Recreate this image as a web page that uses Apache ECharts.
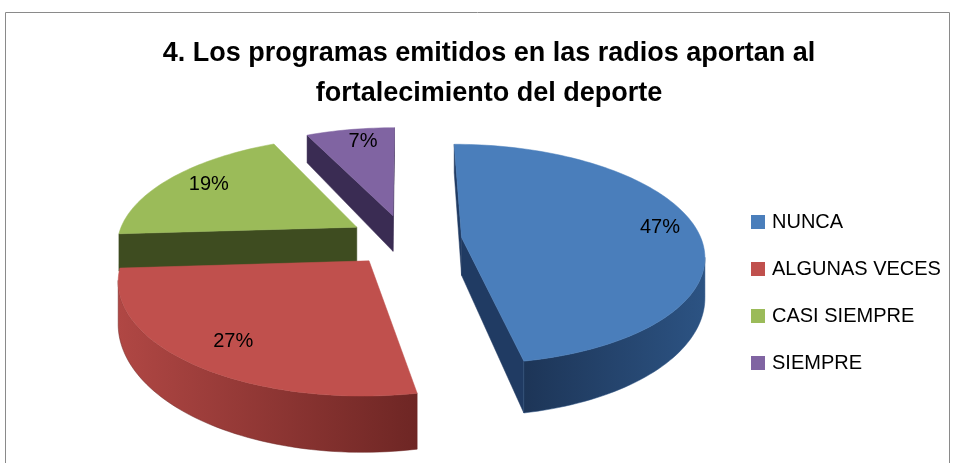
<!DOCTYPE html>
<html>
<head>
<meta charset="utf-8">
<script src="https://cdn.jsdelivr.net/npm/echarts@6/dist/echarts.min.js"></script>
<style>html,body{margin:0;padding:0;background:#fff}#c{width:955px;height:463px}</style>
</head>
<body>
<div id="c"></div>
<script>
// ---- data ----
const categories = ['NUNCA', 'ALGUNAS VECES', 'CASI SIEMPRE', 'SIEMPRE'];
const values = [47, 27, 19, 7];
const titleLines = ['4. Los programas emitidos en las radios aportan al', 'fortalecimiento del deporte'];

// ---- styles ----
const topColors = ['#4a7ebb', '#c0504d', '#9bbb59', '#8064a2'];
const wallColors = [['#1d3557', '#2c5383'], ['#b04744', '#6e2624'], ['#3f4d21', '#3b481e'], ['#3d2f57', '#34284b']];
const radialColors = ['#203b63', '#8e3634', '#3e4c20', '#3a2c53'];

// geometry of the 3D projection
const CX = 405, CY = 240, R = 240, K = 0.45, A = 0.15, E = 57, H = 38;

const total = values.reduce((a, b) => a + b, 0);
const angles = [];
(function () { let acc = 0; values.forEach(v => { const s = acc / total * Math.PI * 2; acc += v; angles.push([s, acc / total * Math.PI * 2]); }); })();

function proj(X, Z, d) {
  const s = 1 / (1 + A * Z / R);
  return [CX + s * X, CY - K * Z * s + d * H * s * s];
}
function area(p) {
  let a = 0;
  for (let i = 0; i < p.length; i++) { const q = p[(i + 1) % p.length]; a += p[i][0] * q[1] - q[0] * p[i][1]; }
  return a;
}

function renderItem(params, api) {
  const i = params.dataIndex;
  const val = api.value(0);
  const [ts, te] = angles[i];
  const mid = (ts + te) / 2;
  const ox = E * Math.sin(mid), oz = E * Math.cos(mid);
  const rimXZ = t => [ox + R * Math.sin(t), oz + R * Math.cos(t)];
  const rim = (t, d) => { const q = rimXZ(t); return proj(q[0], q[1], d); };
  const apex = d => proj(ox, oz, d);
  const N = Math.max(8, Math.ceil((te - ts) / (Math.PI / 120)));
  const th = j => ts + (te - ts) * j / N;
  const children = [];
  const zOf = z => Math.round(500 - z);

  // outer wall runs
  let run = null; const runs = [];
  for (let j = 0; j < N; j++) {
    const q = [rim(th(j), 0), rim(th(j + 1), 0), rim(th(j + 1), 1), rim(th(j), 1)];
    const vis = area(q) < 0;
    if (vis) { if (!run) { run = [j, j + 1]; runs.push(run); } else run[1] = j + 1; }
    else run = null;
  }
  runs.forEach(r => {
    const pts = []; const back = []; let zs = 0;
    for (let j = r[0]; j <= r[1]; j++) { pts.push(rim(th(j), 0)); back.unshift(rim(th(j), 1)); zs += rimXZ(th(j))[1]; }
    const zAvg = zs / (r[1] - r[0] + 1);
    children.push({
      type: 'polygon', z2: zOf(zAvg), shape: { points: pts.concat(back) },
      style: { fill: new echarts.graphic.LinearGradient(0, 0, 1, 0, [{ offset: 0, color: wallColors[i][0] }, { offset: 1, color: wallColors[i][1] }]), stroke: wallColors[i][1], lineWidth: 0.5 }
    });
  });
  // radial faces
  const sFace = [apex(0), rim(ts, 0), rim(ts, 1), apex(1)];
  const eFace = [rim(te, 0), apex(0), apex(1), rim(te, 1)];
  [[sFace, ts], [eFace, te]].forEach(([f, t]) => {
    if (area(f) < 0) {
      const zAvg = (oz + rimXZ(t)[1]) / 2;
      children.push({ type: 'polygon', z2: zOf(zAvg), shape: { points: f }, style: { fill: radialColors[i], stroke: radialColors[i], lineWidth: 0.5 } });
    }
  });
  // top face
  const topPts = [apex(0)];
  for (let j = 0; j <= N; j++) topPts.push(rim(th(j), 0));
  children.push({ type: 'polygon', z2: 2000 + zOf(oz), shape: { points: topPts }, style: { fill: topColors[i], stroke: topColors[i], lineWidth: 0.5 } });
  // label
  const lp = proj(ox + 0.82 * R * Math.sin(mid), oz + 0.82 * R * Math.cos(mid), 0);
  children.push({
    type: 'text', z2: 5000, x: lp[0] + 6, y: lp[1] - 2,
    style: { text: Math.round(val / total * 100) + '%', fill: '#000', font: '20px "Liberation Sans", Arial, sans-serif', align: 'center', verticalAlign: 'middle' }
  });
  return { type: 'group', children };
}

const chart = echarts.init(document.getElementById('c'), null, { renderer: 'canvas' });
chart.setOption({
  animation: false,
  color: topColors,
  title: {
    text: titleLines.join('\n'), left: 489, top: 34, textAlign: 'center', padding: 0,
    textStyle: { fontFamily: '"Liberation Sans Narrow", "Liberation Sans", sans-serif', fontWeight: 'bold', fontSize: 27, lineHeight: 40, color: '#000' }
  },
  legend: {
    data: categories, orient: 'vertical', left: 746, top: 207, itemWidth: 14, itemHeight: 14, itemGap: 27,
    icon: 'rect',
    textStyle: { fontFamily: '"Liberation Sans", Arial, sans-serif', fontSize: 20, lineHeight: 20, color: '#000', padding: [0, 0, 0, 2] }
  },
  graphic: [{ type: 'rect', shape: { x: 5.5, y: 12.5, width: 944, height: 470 }, style: { fill: 'none', stroke: '#8a8a8a', lineWidth: 1 }, silent: true }],
  series: [
    {
      type: 'pie', name: 'legend', center: [-500, -500], radius: [0, 1], silent: true, label: { show: false },
      data: categories.map((c, i) => ({ name: c, value: values[i] }))
    },
    {
      type: 'custom', coordinateSystem: 'none', silent: true, renderItem,
      data: values.map((v, i) => ({ name: categories[i], value: [v] }))
    }
  ]
});
</script>
</body>
</html>
